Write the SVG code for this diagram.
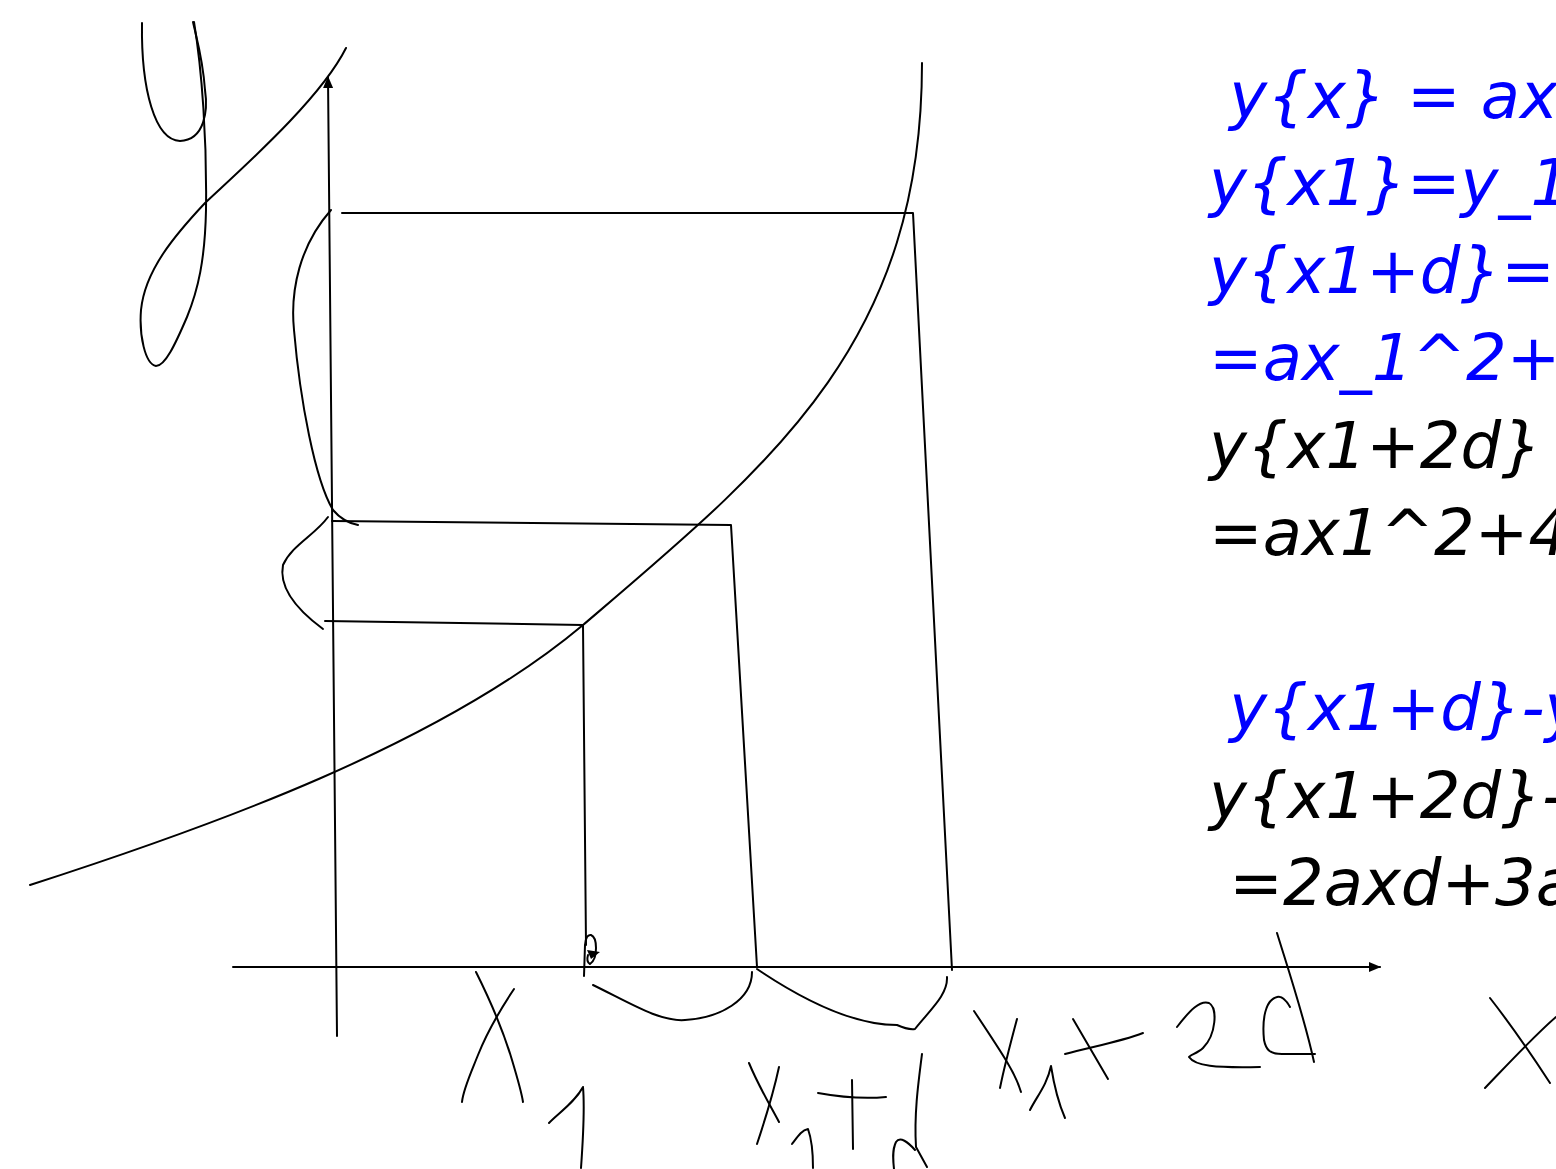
<svg xmlns="http://www.w3.org/2000/svg" width="1556" height="1169" viewBox="0 0 1556 1169">
<style>
.s{fill:none;stroke:#000;stroke-width:2;stroke-linecap:round;stroke-linejoin:round}
.t{font-family:"DejaVu Sans","Liberation Sans",sans-serif;font-style:italic;font-size:64px}
.b{fill:#0000ff}
.k{fill:#000}
</style>
<defs>
<marker id="ah" markerWidth="12" markerHeight="10" refX="11" refY="5" orient="auto" markerUnits="userSpaceOnUse">
<path d="M0,0 L12,5 L0,10 Z" fill="#000"/>
</marker>
</defs>
<rect width="1556" height="1169" fill="#fff"/>
<g id="connectors">
<g id="axes">
<line class="s" x1="233" y1="967" x2="1380" y2="967" marker-end="url(#ah)"/>
<line class="s" x1="337" y1="1036" x2="328" y2="77" marker-end="url(#ah)"/>
</g>
<g id="curve">
<path class="s" d="M30,885 C210,827 440,745 583,625 C773,463 922,343 922,63"/>
</g>
<g id="guides">
<path class="s" d="M342,213 L913,213 L952,970"/>
<path class="s" d="M332,521 L731,525 L757,967"/>
<path class="s" d="M325,621 L583,625 L586,945"/>
<path class="s" d="M584,976 L585,945 Q586,934 591,935 Q596,937 596,948 Q596,960 590,964 Q586,962 588,955"/>
<path d="M587,950 L600,952 L591,959 Z" fill="#000"/>
</g>
<g id="braces">
<path class="s" d="M331,210 C300,245 290,290 294,330 C300,400 315,480 333,510 Q343,522 358,525"/>
<path class="s" d="M328,517 C315,535 292,545 283,565 C278,590 300,612 323,629"/>
<path class="s" d="M593,985 C630,1003 660,1022 685,1020 C720,1018 752,1000 752,972"/>
<path class="s" d="M757,969 C800,998 850,1025 897,1025 Q908,1030 915,1029 C930,1010 948,995 947,977"/>
</g>
</g>
<g id="handwriting">
<g id="label-y">
<path class="s" d="M142,23 C141,90 155,140 180,141 C205,140 208,110 205,90 C203,60 197,40 193,22"/>
<path class="s" d="M194,22 C202,70 207,140 206,210 C205,260 198,290 187,317 C175,345 165,366 156,366 C145,364 139,335 141,310 C145,270 175,235 205,203 C240,170 320,100 346,48"/>
</g>
<g id="label-x1">
<path class="s" d="M476,972 C490,1000 503,1030 512,1060 C518,1080 522,1095 523,1102"/>
<path class="s" d="M514,989 C500,1010 488,1030 478,1055 C470,1075 463,1090 462,1102"/>
<path class="s" d="M549,1123 C560,1112 575,1102 583,1087 C585,1110 583,1140 581,1168"/>
</g>
<g id="label-x1d">
<path class="s" d="M749,1063 C758,1085 770,1105 779,1122"/>
<path class="s" d="M779,1067 C773,1095 765,1120 757,1144"/>
<path class="s" d="M792,1144 C798,1136 802,1130 808,1129 C812,1140 813,1155 813,1168"/>
<path class="s" d="M852,1080 L853,1149"/>
<path class="s" d="M818,1093 C840,1097 865,1099 886,1097"/>
<path class="s" d="M922,1054 C918,1085 914,1115 916,1147 L927,1167"/>
<path class="s" d="M915,1150 C908,1142 900,1136 896,1142 C892,1150 893,1160 894,1169"/>
</g>
<g id="label-x12d">
<path class="s" d="M974,1011 C990,1035 1000,1050 1007,1062 C1013,1072 1018,1082 1021,1092"/>
<path class="s" d="M1017,1019 C1010,1045 1004,1068 1000,1088"/>
<path class="s" d="M1030,1110 C1037,1096 1047,1085 1051,1066 C1054,1085 1058,1102 1065,1118"/>
<path class="s" d="M1073,1019 L1108,1079"/>
<path class="s" d="M1065,1054 C1090,1047 1120,1042 1143,1033"/>
<path class="s" d="M1177,1027 C1190,1010 1200,1000 1209,1003 C1218,1008 1216,1035 1203,1048 C1198,1053 1190,1055 1189,1057 C1195,1066 1215,1068 1260,1067"/>
<path class="s" d="M1290,1007 C1285,998 1280,996 1277,997 C1265,1000 1262,1020 1264,1040 C1266,1050 1270,1054 1282,1054 L1315,1054"/>
<path class="s" d="M1277,933 C1290,975 1305,1020 1314,1062"/>
</g>
<g id="label-x">
<path class="s" d="M1490,998 C1515,1030 1535,1060 1550,1083"/>
<path class="s" d="M1485,1088 C1510,1062 1535,1035 1556,1017"/>
</g>
</g>
<g id="equations" class="t">
<text class="b" x="1209" y="118" xml:space="preserve"> y{x} = ax</text>
<text class="b" x="1209" y="205">y{x1}=y_1</text>
<text class="b" x="1209" y="293">y{x1+d}=a</text>
<text class="b" x="1209" y="380">=ax_1^2+</text>
<text class="k" x="1209" y="468">y{x1+2d}</text>
<text class="k" x="1209" y="555">=ax1^2+4</text>
<text class="b" x="1209" y="730" xml:space="preserve"> y{x1+d}-y</text>
<text class="k" x="1209" y="818">y{x1+2d}-</text>
<text class="k" x="1209" y="905" xml:space="preserve"> =2axd+3a</text>
</g>
</svg>
